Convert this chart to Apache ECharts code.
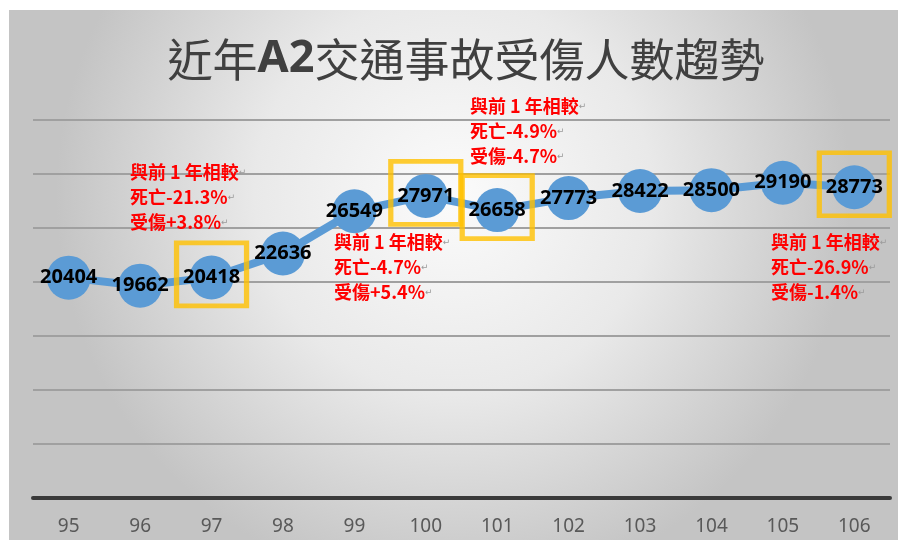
<!DOCTYPE html>
<html>
<head>
<meta charset="utf-8">
<script src="https://cdn.jsdelivr.net/npm/echarts@6/dist/echarts.min.js"></script>
<style>
    html, body {margin: 0; padding: 0; background: #fff;}
    #main {width: 898px; height: 540px;}
</style>
</head>
<body>
<div id="main"></div>
<script>
    // 年度 (民國)
    var years = ['95', '96', '97', '98', '99', '100', '101', '102', '103', '104', '105', '106'];
    // 受傷人數
    var injured = [20404, 19662, 20418, 22636, 26549, 27971, 26658, 27773, 28422, 28500, 29190, 28773];
    // 加框的年度
    var boxedYears = ['97', '100', '101', '106'];
    // 與前1年相較 註記
    var note97 = ['與前 1 年相較', '死亡-21.3%', '受傷+3.8%'];
    var note100 = ['與前 1 年相較', '死亡-4.7%', '受傷+5.4%'];
    var note101 = ['與前 1 年相較', '死亡-4.9%', '受傷-4.7%'];
    var note106 = ['與前 1 年相較', '死亡-26.9%', '受傷-1.4%'];

    var chart = echarts.init(document.getElementById('main'));

    var boxedData = boxedYears.map(function (y) {
        return [y, injured[years.indexOf(y)]];
    });

    function noteText(lines, x, y) {
        return {
            type: 'text',
            left: x,
            top: y,
            z: 20,
            style: {
                text: lines.map(function (s) { return s + '{r|↵}'; }).join('\n'),
                fill: '#ff0000',
                fontSize: 18,
                fontWeight: 'bold',
                fontFamily: 'Noto Sans CJK TC',
                lineHeight: 25,
                rich: {
                    r: {fill: '#9a9a9a', fontSize: 9, fontFamily: 'DejaVu Sans', lineHeight: 25}
                }
            }
        };
    }

    var option = {
        backgroundColor: '#ffffff',
        animation: false,
        title: {
            text: '近年{b|A2}交通事故受傷人數趨勢',
            left: 461,
            top: 32,
            textAlign: 'center',
            textStyle: {
                fontFamily: 'Noto Sans CJK TC',
                fontSize: 45,
                fontWeight: 'normal',
                color: '#404040',
                rich: {
                    b: {fontFamily: 'Noto Sans', fontWeight: 'bold', fontSize: 45, color: '#404040'}
                }
            }
        },
        graphic: [
            {
                type: 'rect',
                z: -100,
                silent: true,
                shape: {x: 9, y: 10, width: 889, height: 530},
                style: {
                    fill: new echarts.graphic.RadialGradient(0.5, 0.35, 0.75, [
                        {offset: 0, color: '#fbfbfb'},
                        {offset: 0.5, color: '#e9e9e9'},
                        {offset: 1, color: '#c4c4c4'}
                    ])
                }
            },
            noteText(note97, 130, 160),
            noteText(note100, 334, 230),
            noteText(note101, 470, 94),
            noteText(note106, 771, 230)
        ],
        grid: {left: 33, right: 8, top: 120, bottom: 42},
        xAxis: {
            type: 'category',
            data: years,
            boundaryGap: true,
            axisLine: {lineStyle: {color: '#3a3a3a', width: 4}},
            axisTick: {show: false},
            axisLabel: {
                margin: 19,
                fontSize: 19,
                fontFamily: 'Noto Sans',
                color: '#595959'
            },
            splitLine: {show: false}
        },
        yAxis: {
            type: 'value',
            min: 0,
            max: 35000,
            interval: 5000,
            axisLine: {show: false},
            axisTick: {show: false},
            axisLabel: {show: false},
            splitLine: {lineStyle: {color: '#a0a0a0', width: 2}}
        },
        series: [
            {
                name: '受傷人數',
                type: 'line',
                data: injured,
                symbol: 'circle',
                symbolSize: 44,
                itemStyle: {color: '#5b9bd5'},
                lineStyle: {color: '#5b9bd5', width: 8},
                label: {
                    show: true,
                    position: 'inside',
                    color: '#000',
                    fontFamily: 'Noto Sans',
                    fontWeight: 'bold',
                    fontSize: 20
                },
                z: 3
            },
            {
                name: '比較年度',
                type: 'scatter',
                data: boxedData,
                symbol: 'rect',
                symbolSize: [70, 63],
                symbolOffset: [0, -3],
                itemStyle: {color: 'rgba(0,0,0,0)', borderColor: '#ffc000', borderWidth: 5},
                silent: true,
                z: 4
            }
        ]
    };

    chart.setOption(option);
</script>
</body>
</html>
